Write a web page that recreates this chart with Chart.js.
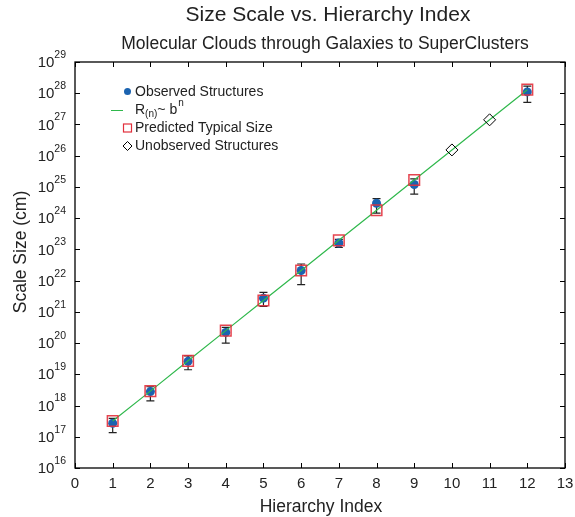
<!DOCTYPE html>
<html lang="en">
<head>
    <meta charset="UTF-8">
    <title>Size Scale vs. Hierarchy Index</title>
    <style>
        html, body { margin: 0; padding: 0; background: #fff; }
        #wrap { width: 575px; height: 517px; }
    </style>
</head>
<body>
<div id="wrap"><canvas id="myChart" width="575" height="517"></canvas></div>

<script src="https://cdn.jsdelivr.net/npm/chart.js@4/dist/chart.umd.min.js"></script>
<script>
    // hierarchy index of every level
    var hierarchy = [1, 2, 3, 4, 5, 6, 7, 8, 9, 10, 11, 12];
    // R(n) ~ b^n, one value per level
    var lineValues = [3.2e17, 2.9e18, 2.7e19, 2.5e20, 2.3e21, 2.1e22, 1.95e23, 1.8e24, 1.66e25, 1.53e26, 1.41e27, 1.3e28];

    // observed structures with error bars
    var observedIndex = [1, 2, 3, 4, 5, 6, 7, 8, 9, 12];
    var observedSize = [2.7e17, 2.8e18, 2.6e19, 2.2e20, 2.75e21, 2.1e22, 1.6e23, 3.0e24, 1.2e25, 1.1e28];
    var observedLow = [1.35e17, 1.4e18, 1.4e19, 1.0e20, 1.5e21, 7.4e21, 1.15e23, 1.45e24, 5.9e24, 5.1e27];
    var observedHigh = [3.9e17, 4.0e18, 3.9e19, 3.2e20, 4.2e21, 3.4e22, 2.1e23, 4.2e24, 1.8e25, 1.7e28];

    // predicted typical sizes
    var predictedIndex = [1, 2, 3, 4, 5, 6, 7, 8, 9, 12];
    var predictedSize = [3.2e17, 2.9e18, 2.7e19, 2.5e20, 2.3e21, 2.1e22, 1.95e23, 1.8e24, 1.66e25, 1.3e28];

    // unobserved structures
    var unobservedIndex = [10, 11];
    var unobservedSize = [1.53e26, 1.41e27];

    // axis ticks
    var xTicks = [0, 1, 2, 3, 4, 5, 6, 7, 8, 9, 10, 11, 12, 13];
    var yExponents = [16, 17, 18, 19, 20, 21, 22, 23, 24, 25, 26, 27, 28, 29];

    var FONT = '"Liberation Sans", Arial, Helvetica, sans-serif';
    var BLUE = '#1b63b0';
    var RED = '#e2303c';
    var GREEN = '#2fb84c';

    function pts(xs, ys) {
        return xs.map(function (x, i) { return { x: x, y: ys[i] }; });
    }

    // error bars, frame, ticks, labels and legend
    var decorations = {
        id: 'decorations',
        beforeDatasetsDraw: function (chart) {
            var ctx = chart.ctx, xs = chart.scales.x, ys = chart.scales.y;
            ctx.save();
            ctx.strokeStyle = '#222';
            ctx.lineWidth = 1.2;
            observedIndex.forEach(function (n, i) {
                var px = xs.getPixelForValue(n);
                var lo = ys.getPixelForValue(observedLow[i]);
                var hi = ys.getPixelForValue(observedHigh[i]);
                ctx.beginPath();
                ctx.moveTo(px, lo); ctx.lineTo(px, hi);
                ctx.moveTo(px - 4, lo); ctx.lineTo(px + 4, lo);
                ctx.moveTo(px - 4, hi); ctx.lineTo(px + 4, hi);
                ctx.stroke();
            });
            ctx.restore();
        },
        afterDraw: function (chart) {
            var ctx = chart.ctx, a = chart.chartArea;
            var xs = chart.scales.x, ys = chart.scales.y;
            ctx.save();

            // frame
            ctx.strokeStyle = '#000';
            ctx.lineWidth = 1.3;
            ctx.strokeRect(a.left, a.top, a.right - a.left, a.bottom - a.top);

            // inward ticks
            ctx.lineWidth = 1;
            ctx.beginPath();
            xTicks.forEach(function (t) {
                var px = Math.round(xs.getPixelForValue(t)) + 0.5;
                ctx.moveTo(px, a.bottom); ctx.lineTo(px, a.bottom - 5);
                ctx.moveTo(px, a.top); ctx.lineTo(px, a.top + 5);
            });
            yExponents.forEach(function (e) {
                var py = Math.round(ys.getPixelForValue(Math.pow(10, e))) + 0.5;
                ctx.moveTo(a.left, py); ctx.lineTo(a.left + 5, py);
                ctx.moveTo(a.right, py); ctx.lineTo(a.right - 5, py);
            });
            ctx.stroke();

            ctx.fillStyle = '#222';

            // x tick labels
            ctx.font = '15px ' + FONT;
            ctx.textAlign = 'center';
            ctx.textBaseline = 'middle';
            xTicks.forEach(function (t) {
                ctx.fillText(String(t), xs.getPixelForValue(t), a.bottom + 16);
            });

            // y tick labels: 10 with superscript
            yExponents.forEach(function (e) {
                var py = ys.getPixelForValue(Math.pow(10, e));
                ctx.font = '10.5px ' + FONT;
                ctx.textAlign = 'left';
                var ew = ctx.measureText(String(e)).width;
                var right = a.left - 9;
                ctx.fillText(String(e), right - ew, py - 7);
                ctx.font = '15px ' + FONT;
                ctx.textAlign = 'right';
                ctx.fillText('10', right - ew, py + 1);
            });

            // titles
            ctx.textAlign = 'center';
            ctx.font = '21px ' + FONT;
            ctx.fillText('Size Scale vs. Hierarchy Index', 328, 15);
            ctx.font = '17.5px ' + FONT;
            ctx.fillText('Molecular Clouds through Galaxies to SuperClusters', 325, 44);
            ctx.font = '17.5px ' + FONT;
            ctx.fillText('Hierarchy Index', 321, a.bottom + 39);

            ctx.save();
            ctx.translate(21, 252);
            ctx.rotate(-Math.PI / 2);
            ctx.fillText('Scale Size (cm)', 0, 0);
            ctx.restore();

            // legend
            var lx = 127.5, tx = 135;
            ctx.font = '14px ' + FONT;
            ctx.textAlign = 'left';

            ctx.fillStyle = BLUE;
            ctx.beginPath(); ctx.arc(lx, 91.5, 3.5, 0, Math.PI * 2); ctx.fill();
            ctx.fillStyle = '#222';
            ctx.fillText('Observed Structures', tx, 92);

            ctx.strokeStyle = GREEN;
            ctx.lineWidth = 1;
            ctx.beginPath(); ctx.moveTo(111, 110.5); ctx.lineTo(123, 110.5); ctx.stroke();
            var x = tx;
            ctx.fillText('R', x, 110); x += ctx.measureText('R').width;
            ctx.font = '10px ' + FONT;
            ctx.fillText('(n)', x, 114); x += ctx.measureText('(n)').width;
            ctx.font = '14px ' + FONT;
            ctx.fillText('~ b', x, 110); x += ctx.measureText('~ b').width;
            ctx.font = '10px ' + FONT;
            ctx.fillText('n', x + 1, 103);

            ctx.font = '14px ' + FONT;
            ctx.strokeStyle = RED;
            ctx.lineWidth = 1.2;
            ctx.strokeRect(lx - 4, 124, 8, 8);
            ctx.fillText('Predicted Typical Size', tx, 128);

            ctx.strokeStyle = '#000';
            ctx.lineWidth = 1;
            ctx.beginPath();
            ctx.moveTo(lx, 141.5); ctx.lineTo(lx + 4.5, 146); ctx.lineTo(lx, 150.5); ctx.lineTo(lx - 4.5, 146);
            ctx.closePath(); ctx.stroke();
            ctx.fillText('Unobserved Structures', tx, 146);

            ctx.restore();
        }
    };

    function createChart() {
        var ctx = document.getElementById('myChart').getContext('2d');
        new Chart(ctx, {
            type: 'scatter',
            data: {
                datasets: [
                    {
                        label: 'Predicted Typical Size',
                        data: pts(predictedIndex, predictedSize),
                        pointStyle: 'rect',
                        pointRadius: 7.5,
                        borderColor: 'rgba(226,48,60,0.9)',
                        backgroundColor: 'rgba(0,0,0,0)',
                        borderWidth: 1.5,
                        order: 0
                    },
                    {
                        label: 'Unobserved Structures',
                        data: pts(unobservedIndex, unobservedSize),
                        pointStyle: 'rectRot',
                        pointRadius: 6,
                        borderColor: '#000',
                        backgroundColor: 'rgba(0,0,0,0)',
                        borderWidth: 1,
                        order: 1
                    },
                    {
                        label: 'R(n)~ b^n',
                        data: pts(hierarchy, lineValues),
                        showLine: true,
                        pointRadius: 0,
                        borderColor: GREEN,
                        borderWidth: 1.2,
                        order: 2
                    },
                    {
                        label: 'Observed Structures',
                        data: pts(observedIndex, observedSize),
                        pointStyle: 'circle',
                        pointRadius: 4.5,
                        borderWidth: 0,
                        backgroundColor: BLUE,
                        order: 3
                    }
                ]
            },
            options: {
                responsive: false,
                animation: false,
                layout: { padding: { left: 75, right: 10, top: 62, bottom: 49 } },
                plugins: {
                    legend: { display: false },
                    tooltip: { enabled: false }
                },
                scales: {
                    x: { type: 'linear', min: 0, max: 13, display: false },
                    y: { type: 'logarithmic', min: 1e16, max: 1e29, display: false }
                }
            },
            plugins: [decorations]
        });
    }

    document.addEventListener("DOMContentLoaded", function () {
        createChart();
    });
</script>
</body>
</html>
